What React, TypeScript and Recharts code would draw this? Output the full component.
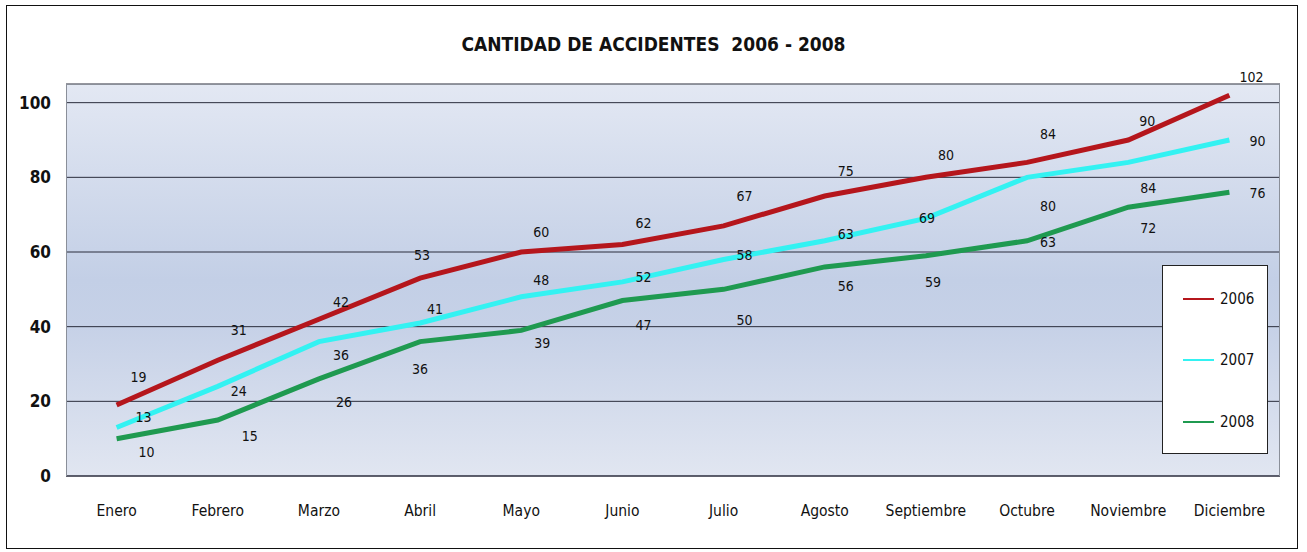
import React from 'react';
import { LineChart, Line, XAxis, YAxis, CartesianGrid, Legend } from 'recharts';

const months = ['Enero', 'Febrero', 'Marzo', 'Abril', 'Mayo', 'Junio', 'Julio', 'Agosto', 'Septiembre', 'Octubre', 'Noviembre', 'Diciembre'];
const values2006 = [19, 31, 42, 53, 60, 62, 67, 75, 80, 84, 90, 102];
const values2007 = [13, 24, 36, 41, 48, 52, 58, 63, 69, 80, 84, 90];
const values2008 = [10, 15, 26, 36, 39, 47, 50, 56, 59, 63, 72, 76];
const yTicks = [0, 20, 40, 60, 80, 100];
const seriesNames = ['2006', '2007', '2008'];
const seriesColors = ['#b5161c', '#33f2f2', '#1f9a50'];
const title = 'CANTIDAD DE ACCIDENTES\u00a0\u00a02006 - 2008';

// label nudges (styling only): [dx, dy] from each point
const labelNudge2006 = [[22, -28], [21, -30], [22, -17], [2, -23], [20, -20], [21, -22], [21, -30], [21, -25], [20, -22], [21, -28], [19, -19], [22, -18]];
const labelNudge2007 = [[27, -10], [21, 5], [22, 13], [15, -14], [20, -17], [21, -5], [21, -4], [21, -7], [1, 0], [21, 29], [20, 26], [28, 1]];
const labelNudge2008 = [[30, 13], [32, 16], [25, 23], [0, 27], [21, 13], [21, 24], [21, 31], [21, 19], [7, 26], [21, 1], [20, 21], [28, 1]];
const nudges = [labelNudge2006, labelNudge2007, labelNudge2008];

const FONT = "'Liberation Sans Narrow', 'Arial Narrow', 'DejaVu Sans Condensed', sans-serif";

const PLOT = { left: 66, top: 84, width: 1214, height: 392 };

const data = months.map((m, i) => ({
  month: m,
  '2006': values2006[i],
  '2007': values2007[i],
  '2008': values2008[i],
}));

const makeLabel = (s: number) => (p: any) => {
  const off = nudges[s][p.index] || [0, -15];
  return (
    <text
      key={`lbl-${s}-${p.index}`}
      x={p.x + off[0]}
      y={p.y + off[1]}
      textAnchor="middle"
      dominantBaseline="central"
      fontFamily={FONT}
      fontSize={14}
      fill="#111"
    >
      {p.value}
    </text>
  );
};

const LegendBox = () => (
  <div
    style={{
      width: 106,
      height: 189,
      border: '1px solid #222',
      background: '#fff',
      display: 'flex',
      flexDirection: 'column',
      justifyContent: 'space-around',
      paddingTop: 2,
      boxSizing: 'border-box',
    }}
  >
    {seriesNames.map((n, i) => (
      <div key={n} style={{ display: 'flex', alignItems: 'center', height: 20 }}>
        <div style={{ width: 31, height: 2, background: seriesColors[i], marginLeft: 20, marginRight: 6 }} />
        <span style={{ fontFamily: FONT, fontSize: 15, color: '#111' }}>{n}</span>
      </div>
    ))}
  </div>
);

export default function App() {
  return (
    <div style={{ position: 'absolute', left: 0, top: 0, width: 1307, height: 552, background: '#fff', overflow: 'hidden' }}>
      <div
        style={{
          position: 'absolute',
          left: 6,
          top: 5,
          width: 1292,
          height: 544,
          border: '1px solid #111',
          boxSizing: 'border-box',
        }}
      />
      <div
        style={{
          position: 'absolute',
          left: 0,
          top: 32,
          width: 1307,
          textAlign: 'center',
          fontFamily: FONT,
          fontWeight: 'bold',
          fontSize: 19,
          color: '#111',
          lineHeight: '24px',
        }}
      >
        {title}
      </div>
      <div style={{ position: 'absolute', left: 0, top: 0 }}>
        <LineChart width={1307} height={552} data={data} margin={{ top: 84, right: 27, bottom: 46, left: 6 }}>
          <defs>
            <linearGradient id="plotBg" x1="0" y1="0" x2="0" y2="1">
              <stop offset="0%" stopColor="#e3e8f3" />
              <stop offset="50%" stopColor="#c3cfe6" />
              <stop offset="62%" stopColor="#c6d1e7" />
              <stop offset="100%" stopColor="#e1e6f1" />
            </linearGradient>
          </defs>
          <CartesianGrid vertical={false} fill="url(#plotBg)" fillOpacity={1} stroke="#2a2d3c" strokeWidth={1} />
          <XAxis
            dataKey="month"
            interval={0}
            padding={{ left: 50.6, right: 50.6 }}
            axisLine={{ stroke: '#2a2d3c', strokeWidth: 1 }}
            tickLine={false}
            tickSize={0}
            tickMargin={29}
            height={30}
            tick={{ fontFamily: FONT, fontSize: 15.5, fill: '#111' }}
          />
          <YAxis
            domain={[0, 105]}
            ticks={yTicks}
            interval={0}
            axisLine={false}
            tickLine={false}
            tickSize={0}
            tickMargin={15}
            width={60}
            tick={{ fontFamily: FONT, fontSize: 17, fontWeight: 'bold', fill: '#111' }}
          />
          {seriesNames.map((n, i) => (
            <Line
              key={n}
              type="linear"
              dataKey={n}
              name={n}
              stroke={seriesColors[i]}
              strokeWidth={5}
              dot={false}
              activeDot={false}
              isAnimationActive={false}
              label={makeLabel(i)}
            />
          ))}
          <Legend
            layout="horizontal"
            verticalAlign="middle"
            align="center"
            content={() => <LegendBox />}
            wrapperStyle={{ position: 'absolute', left: 1162, top: 265, width: 108, height: 191 }}
          />
        </LineChart>
      </div>
      <div
        style={{
          position: 'absolute',
          left: PLOT.left,
          top: PLOT.top,
          width: PLOT.width,
          height: PLOT.height,
          borderTop: '1px solid #8a8f99',
          borderLeft: '1px solid #8a8f99',
          borderRight: '1px solid #8a8f99',
          boxSizing: 'border-box',
          pointerEvents: 'none',
        }}
      />
    </div>
  );
}
